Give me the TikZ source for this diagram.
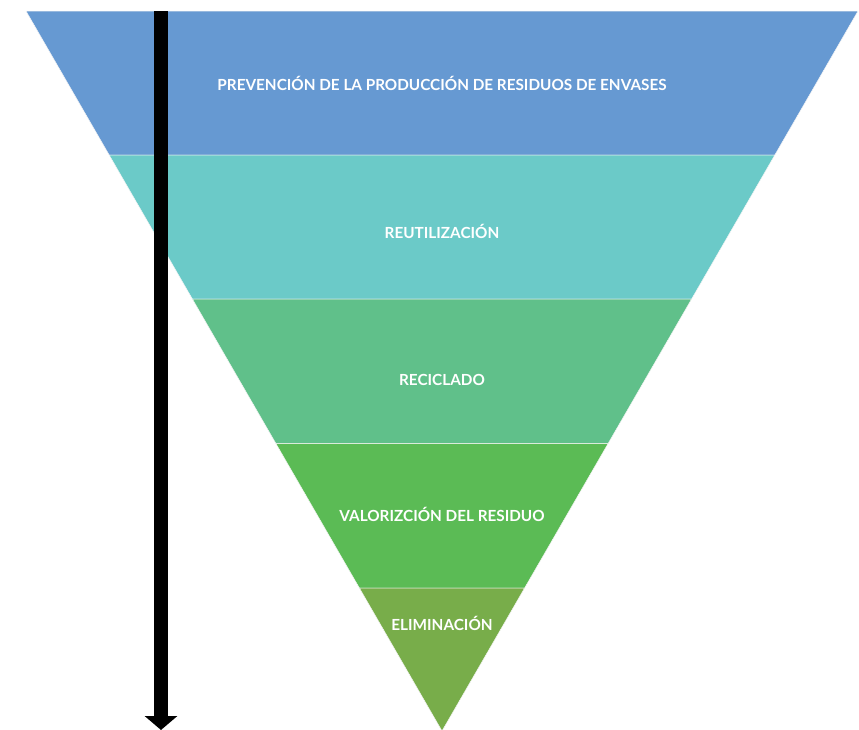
\documentclass[tikz,border=0pt]{standalone}
\usepackage{fontspec}
\setmainfont{Lato}
\usetikzlibrary{arrows.meta}
\definecolor{banda1}{RGB}{102,153,210}
\definecolor{banda2}{RGB}{107,202,200}
\definecolor{banda3}{RGB}{96,192,138}
\definecolor{banda4}{RGB}{91,187,85}
\definecolor{banda5}{RGB}{120,173,74}
\tikzset{
  nivel/.style={text=white, font=\fontsize{15.3}{18}\selectfont\bfseries},
  franja/.style={draw=white!60!gray!20, line width=0.5pt}
}
\begin{document}
\begin{tikzpicture}[x=1pt, y=-1pt]
\useasboundingbox (0,0) rectangle (859,729);
\fill[banda1, franja] (26,11) -- (858,11) -- (774.8,155) -- (109.2,155) -- cycle;
\fill[banda2, franja] (109.2,155) -- (774.8,155) -- (691.6,299) -- (192.4,299) -- cycle;
\fill[banda3, franja] (192.4,299) -- (691.6,299) -- (608.1,443.5) -- (275.9,443.5) -- cycle;
\fill[banda4, franja] (275.9,443.5) -- (608.1,443.5) -- (524.6,588) -- (359.4,588) -- cycle;
\fill[banda5, franja] (359.4,588) -- (524.6,588) -- (442,731) -- cycle;

\node[nivel] (prevencion) at (442,83) {PREVENCIÓN DE LA PRODUCCIÓN DE RESIDUOS DE ENVASES};
\node[nivel] (reutilizacion) at (442,231) {REUTILIZACIÓN};
\node[nivel] (reciclado) at (442,380) {RECICLADO};
\node[nivel] (valorizacion) at (442,514) {VALORIZCIÓN DEL RESIDUO};
\node[nivel] (eliminacion) at (442,623) {ELIMINACIÓN};

\coordinate (inicio) at (161,11);
\coordinate (fin) at (161,730);
\draw[line width=14pt, -{Triangle[width=32pt, length=14pt]}] (inicio) -- (fin);
\end{tikzpicture}
\end{document}
